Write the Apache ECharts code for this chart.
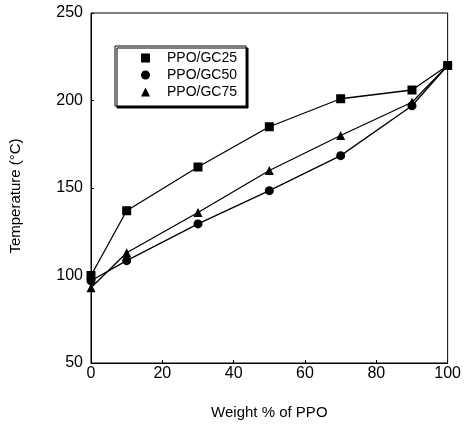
<!DOCTYPE html>
<html>
<head>
    <meta charset="UTF-8">
    <title>Temperature vs Weight % of PPO</title>
    <script src="https://cdn.jsdelivr.net/npm/echarts@6/dist/echarts.min.js"></script>
    <style>
        body { margin: 0; background: #fff; }
        #main { width: 464px; height: 428px; }
    </style>
</head>
<body>
    <div id="main"></div>
    <script>
        // 数据
        var seriesNames = ['PPO/GC25', 'PPO/GC50', 'PPO/GC75'];
        var weightPPO = [0, 10, 30, 50, 70, 90, 100];
        var gc25 = [100, 137, 162, 185, 201, 206, 220];
        var gc50 = [97, 108.5, 129.5, 148.5, 168.5, 197, 220];
        var gc75 = [93, 113, 136, 160, 180, 199, 220];

        function pairs(ys) {
            return weightPPO.map(function (x, i) { return [x, ys[i]]; });
        }

        var font = 'Liberation Sans';

        var option = {
            animation: false,
            backgroundColor: '#fff',
            grid: {
                left: 91, top: 13, width: 359, height: 350,
                show: true, borderColor: '#000', borderWidth: 1
            },
            legend: {
                orient: 'vertical',
                left: 115, top: 46,
                padding: [5, 9, 7, 26],
                itemWidth: 9, itemHeight: 9, itemGap: 3,
                borderColor: '#000', borderWidth: 1,
                backgroundColor: '#fff',
                shadowColor: '#000', shadowBlur: 0, shadowOffsetX: 2, shadowOffsetY: 2,
                textStyle: { fontFamily: font, fontSize: 14, color: '#000', lineHeight: 14, padding: [0, 0, 0, 12] },
                data: [
                    { name: seriesNames[0], icon: 'rect' },
                    { name: seriesNames[1], icon: 'circle' },
                    { name: seriesNames[2], icon: 'triangle' }
                ]
            },
            xAxis: {
                type: 'value',
                min: 0, max: 100, interval: 20,
                name: 'Weight % of PPO',
                nameLocation: 'middle', nameGap: 42,
                nameTextStyle: { fontFamily: font, fontSize: 15, color: '#000' },
                axisLine: { lineStyle: { color: '#000', width: 1 } },
                axisTick: { inside: true, length: 3, lineStyle: { color: '#000' } },
                axisLabel: { fontFamily: font, fontSize: 16, color: '#000', margin: 3 },
                splitLine: { show: false }
            },
            yAxis: {
                type: 'value',
                min: 50, max: 250, interval: 50,
                name: 'Temperature (°C)',
                nameLocation: 'middle', nameGap: 68,
                nameTextStyle: { fontFamily: font, fontSize: 15, color: '#000', padding: [0, 16, 0, 0] },
                axisLine: { lineStyle: { color: '#000', width: 1 } },
                axisTick: { inside: true, length: 3, lineStyle: { color: '#000' } },
                axisLabel: { fontFamily: font, fontSize: 16, color: '#000', margin: 8 },
                splitLine: { show: false }
            },
            series: [
                {
                    name: seriesNames[2], type: 'line', data: pairs(gc75),
                    symbol: 'triangle', symbolSize: 9, z: 2,
                    lineStyle: { color: '#000', width: 1.3 },
                    itemStyle: { color: '#000' }
                },
                {
                    name: seriesNames[1], type: 'line', data: pairs(gc50),
                    symbol: 'circle', symbolSize: 9, z: 3,
                    lineStyle: { color: '#000', width: 1.3 },
                    itemStyle: { color: '#000' }
                },
                {
                    name: seriesNames[0], type: 'line', data: pairs(gc25),
                    symbol: 'rect', symbolSize: 9, z: 4,
                    lineStyle: { color: '#000', width: 1.3 },
                    itemStyle: { color: '#000' }
                }
            ]
        };

        var myChart = echarts.init(document.getElementById('main'));
        myChart.setOption(option);
    </script>
</body>
</html>
